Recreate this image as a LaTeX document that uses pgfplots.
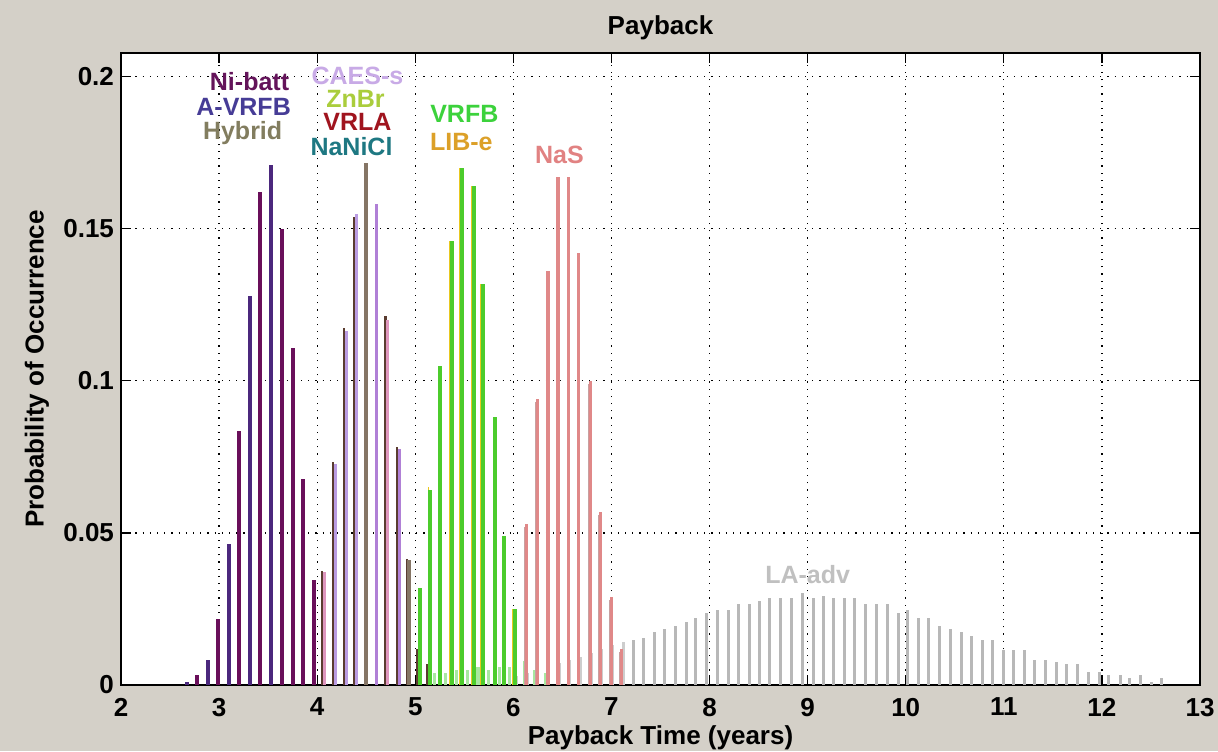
\documentclass[border=0pt]{standalone}
\usepackage{fontspec}
\setmainfont{Liberation Sans}
\usepackage{pgfplots}
\pgfplotsset{compat=1.18}
\definecolor{figbg}{RGB}{212,208,200}
\definecolor{indigo1}{RGB}{75,40,125}
\definecolor{maroon1}{RGB}{105,15,90}
\definecolor{brown2}{RGB}{90,60,48}
\definecolor{lav2}{RGB}{186,156,226}
\definecolor{pink2}{RGB}{222,150,190}
\definecolor{gbrown2}{RGB}{133,117,101}
\definecolor{violet2}{RGB}{176,128,214}
\definecolor{green3}{RGB}{76,204,44}
\definecolor{yellow3}{RGB}{232,200,32}
\definecolor{lgreen3}{RGB}{168,232,160}
\definecolor{nas}{RGB}{224,136,136}
\definecolor{nasgray}{RGB}{200,160,160}
\definecolor{lagray}{RGB}{184,184,184}
\definecolor{tNi}{RGB}{100,20,90}
\definecolor{tAV}{RGB}{70,60,150}
\definecolor{tHy}{RGB}{130,125,95}
\definecolor{tCA}{RGB}{200,170,230}
\definecolor{tZn}{RGB}{170,205,60}
\definecolor{tVL}{RGB}{160,20,30}
\definecolor{tNa}{RGB}{30,120,130}
\definecolor{tVF}{RGB}{60,210,60}
\definecolor{tLI}{RGB}{220,160,40}
\definecolor{tNS}{RGB}{225,130,130}
\definecolor{tLA}{RGB}{192,192,192}
\newcommand{\ff}{\bfseries\fontsize{13}{15}\selectfont}
\newcommand{\fa}{\bfseries\fontsize{12.5}{14}\selectfont}
\begin{document}
\begin{tikzpicture}[x=1pt,y=1pt]
\useasboundingbox (0,0) rectangle (609,375.5);
\fill[figbg] (0,0) rectangle (609,375.5);
\begin{axis}[
  at={(60.5pt,33pt)}, anchor=south west,
  width=539.5pt, height=316pt, scale only axis,
  xmin=2, xmax=13, ymin=0, ymax=0.2078,
  axis background/.style={fill=white},
  xtick={2,3,4,5,6,7,8,9,10,11,12,13},
  xticklabels={2,3,4,5,6,7,8,9,10,11,12,13},
  ytick={0,0.05,0.1,0.15,0.2},
  yticklabels={0,0.05,0.1,0.15,0.2},
  tick align=inside, xtick pos=both, ytick pos=both,
  major tick length=5pt,
  tick style={black, line width=0.6pt},
  axis line style={black, line width=0.6pt},
  grid=major,
  grid style={black, line width=0.6pt, dash pattern=on 0.6pt off 3pt},
  /pgf/number format/assume math mode=true,
  tick label style={font=\ff, black},
  xticklabel style={yshift=-3pt},
  title={Payback},
  title style={font=\ff, at={(0.5,1)}, anchor=base, yshift=3pt},
  xlabel={Payback Time (years)},
  xlabel style={font=\ff, at={(0.5,0)}, anchor=base, yshift=-29.5pt},
  ylabel={Probability of Occurrence},
  ylabel style={font=\ff, at={(0,0.5)}, anchor=center, yshift=42pt},
  clip=true,
]
% LA-adv tail (behind)
\addplot[ycomb, line width=1.4pt, color=lagray!70, no marks] coordinates {
(6.035,0.003) (6.144,0.004) (6.252,0.005) (6.361,0.0062) (6.469,0.0072) (6.578,0.0082) (6.686,0.0092) (6.795,0.0105) (6.903,0.0118) (7.012,0.013) (7.120,0.014)};
% light green tails
\addplot[ycomb, line width=1.6pt, color=lgreen3, no marks] coordinates {
(5.20,0.004) (5.31,0.004) (5.42,0.005) (5.53,0.005) (5.64,0.006) (5.75,0.005) (5.86,0.006) (5.96,0.006) (6.11,0.008) (6.22,0.005) (6.33,0.004)};
% small stubs group 1/2
\addplot[ycomb, line width=1.2pt, color=pink2, no marks] coordinates {
(3.965,0.017) (5.045,0.0176) (5.13,0.0066)};
\addplot[ycomb, line width=1.2pt, color=brown2, no marks] coordinates {
(3.75,0.0012) (3.86,0.0066) (5.015,0.012) (5.12,0.0069)};
% Group 1
\addplot[ycomb, line width=2pt, color=indigo1, no marks] coordinates {
(2.675,0.0011) (2.885,0.0082) (3.099,0.0465) (3.312,0.128) (3.529,0.171)};
\addplot[ycomb, line width=2pt, color=maroon1, no marks] coordinates {
(2.776,0.0033) (2.987,0.0216) (3.207,0.0835) (3.421,0.162) (3.641,0.150) (3.750,0.1107) (3.855,0.0676) (3.963,0.0346)};
% Group 2 dark companion
\addplot[ycomb, line width=1.2pt, color=brown2, no marks] coordinates {
(4.051,0.0374) (4.163,0.0734) (4.272,0.1174) (4.374,0.154) (4.696,0.1214) (4.814,0.0782) (4.916,0.0415)};
% Group 2 light
\addplot[ycomb, line width=1.6pt, color=lav2, no marks] coordinates {
(4.186,0.0728) (4.295,0.1165) (4.397,0.155)};
\addplot[ycomb, line width=1.6pt, color=pink2, no marks] coordinates {
(4.074,0.037) (4.718,0.120)};
\addplot[ycomb, line width=1.6pt, color=violet2, no marks] coordinates {
(4.608,0.158) (4.837,0.0775)};
\addplot[ycomb, line width=2pt, color=gbrown2, no marks] coordinates {
(4.496,0.1715) (4.935,0.041)};
% Group 3
\addplot[ycomb, line width=0.8pt, color=yellow3, no marks] coordinates {
(5.033,0.032) (5.134,0.065) (5.236,0.105) (5.354,0.146) (5.456,0.170) (5.575,0.164) (5.670,0.132) (5.796,0.088) (5.890,0.049) (5.999,0.025)};
\addplot[ycomb, line width=2pt, color=green3, no marks] coordinates {
(5.052,0.032) (5.153,0.064) (5.255,0.105) (5.373,0.146) (5.475,0.170) (5.594,0.164) (5.689,0.132) (5.815,0.088) (5.909,0.049) (6.018,0.025)};
% NaS
\addplot[ycomb, line width=0.8pt, color=nasgray, no marks] coordinates {
(6.119,0.052) (6.231,0.093) (6.340,0.135) (6.441,0.166) (6.551,0.166) (6.652,0.141) (6.770,0.099) (6.872,0.056) (6.984,0.028) (7.086,0.011)};
\addplot[ycomb, line width=1.6pt, color=nas, no marks] coordinates {
(6.133,0.053) (6.245,0.094) (6.354,0.136) (6.455,0.167) (6.565,0.167) (6.666,0.142) (6.784,0.100) (6.886,0.057) (6.998,0.029) (7.100,0.012)};
% LA-adv
\addplot[ycomb, line width=1.5pt, color=lagray, no marks] coordinates {
(7.229,0.0148) (7.322,0.0154) (7.438,0.0175) (7.543,0.0184) (7.651,0.0195) (7.760,0.0206) (7.860,0.0219) (7.973,0.0236)
(8.081,0.0245) (8.194,0.0245) (8.294,0.0266) (8.407,0.0266) (8.507,0.0276) (8.616,0.0287) (8.724,0.0287) (8.837,0.0287)
(8.945,0.0302) (9.058,0.0287) (9.158,0.0293) (9.267,0.0287) (9.379,0.0285) (9.480,0.0287) (9.592,0.0266) (9.701,0.0266)
(9.809,0.0266) (9.922,0.0236) (10.022,0.0245) (10.135,0.0219) (10.236,0.0219) (10.344,0.0195) (10.453,0.0184) (10.565,0.0175)
(10.666,0.0162) (10.778,0.0148) (10.887,0.0148) (10.995,0.0115) (11.100,0.0115) (11.208,0.0115) (11.317,0.0082) (11.429,0.0082)
(11.538,0.0077) (11.642,0.0068) (11.751,0.0068) (11.859,0.0044) (11.972,0.0044) (12.072,0.0033) (12.185,0.0033) (12.285,0.0024)
(12.394,0.0033) (12.502,0.0011) (12.607,0.0024)};
% Labels
\begin{scope}[every node/.style={font=\fa, inner sep=0pt, anchor=base}]
\node[text=tNi] at (axis cs:3.31,0.1956) {Ni-batt};
\node[text=tAV] at (axis cs:3.25,0.1874) {A-VRFB};
\node[text=tHy] at (axis cs:3.24,0.1792) {Hybrid};
\node[text=tCA] at (axis cs:4.41,0.1976) {CAES-s};
\node[text=tZn] at (axis cs:4.39,0.1900) {ZnBr};
\node[text=tVL] at (axis cs:4.41,0.1822) {VRLA};
\node[text=tNa] at (axis cs:4.35,0.1740) {NaNiCl};
\node[text=tVF] at (axis cs:5.50,0.1848) {VRFB};
\node[text=tLI] at (axis cs:5.47,0.1759) {LIB-e};
\node[text=tNS] at (axis cs:6.47,0.1716) {NaS};
\node[text=tLA] at (axis cs:9.00,0.0335) {LA-adv};
\end{scope}
\end{axis}
\end{tikzpicture}
\end{document}
